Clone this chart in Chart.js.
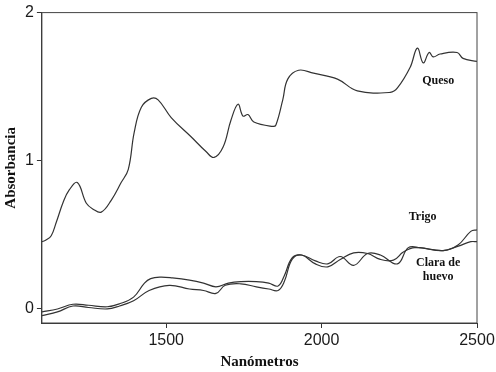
<!DOCTYPE html>
<html lang="es">
<head>
    <meta charset="UTF-8">
    <title>Absorbancia NIR</title>
    <script src="https://cdn.jsdelivr.net/npm/chart.js"></script>
    <style>
        body {
            margin: 0;
            background: #fff;
        }
    </style>
</head>
<body>
<canvas id="spectra" width="496" height="372"></canvas>

<script>
    // wavelengths (nm) and absorbance
    const quesoNm  = [1100, 1112, 1130, 1146, 1169, 1188, 1214, 1243, 1265, 1291, 1323, 1355, 1378, 1397, 1420, 1452, 1474, 1516, 1580, 1628, 1654, 1683, 1708, 1731, 1747, 1763, 1782, 1843, 1853, 1875, 1891, 1926, 1974, 2051, 2115, 2221, 2244, 2285, 2308, 2327, 2346, 2359, 2381, 2436, 2455, 2500];
    const quesoAbs = [0.45, 0.46, 0.49, 0.58, 0.72, 0.80, 0.85, 0.71, 0.67, 0.65, 0.73, 0.85, 0.94, 1.19, 1.36, 1.42, 1.41, 1.29, 1.16, 1.06, 1.02, 1.09, 1.27, 1.38, 1.30, 1.31, 1.26, 1.23, 1.24, 1.41, 1.55, 1.61, 1.59, 1.55, 1.47, 1.46, 1.49, 1.63, 1.76, 1.66, 1.73, 1.70, 1.72, 1.73, 1.69, 1.67];

    const trigoNm  = [1100, 1150, 1200, 1250, 1310, 1350, 1395, 1430, 1450, 1480, 1520, 1575, 1620, 1660, 1700, 1740, 1790, 1830, 1860, 1880, 1905, 1935, 1980, 2020, 2060, 2103, 2148, 2189, 2244, 2279, 2317, 2391, 2440, 2480, 2500];
    const trigoAbs = [-0.025, -0.005, 0.027, 0.02, 0.01, 0.03, 0.075, 0.17, 0.20, 0.21, 0.205, 0.19, 0.17, 0.145, 0.17, 0.18, 0.18, 0.17, 0.15, 0.22, 0.34, 0.36, 0.32, 0.30, 0.35, 0.29, 0.37, 0.36, 0.30, 0.41, 0.41, 0.39, 0.43, 0.52, 0.53];

    const claraNm  = [1100, 1150, 1200, 1250, 1310, 1350, 1395, 1445, 1510, 1575, 1620, 1660, 1690, 1740, 1790, 1830, 1860, 1880, 1905, 1935, 1980, 2020, 2060, 2103, 2148, 2189, 2231, 2263, 2300, 2391, 2440, 2480, 2500];
    const claraAbs = [-0.05, -0.025, 0.015, 0.005, -0.005, 0.015, 0.05, 0.12, 0.155, 0.13, 0.12, 0.10, 0.155, 0.165, 0.145, 0.13, 0.12, 0.18, 0.33, 0.36, 0.30, 0.28, 0.33, 0.375, 0.37, 0.33, 0.325, 0.38, 0.41, 0.39, 0.42, 0.45, 0.45];

    const xTicks = [1500, 2000, 2500];
    const yTicks = [0, 1, 2];

    // curve labels, placed in data coordinates
    const labelText = ['Queso', 'Trigo', 'Clara de', 'huevo'];
    const labelNm   = [2375, 2325, 2375, 2375];
    const labelAbs  = [1.54, 0.62, 0.305, 0.21];

    const toPoints = (xs, ys) => xs.map((x, i) => ({ x: x, y: ys[i] }));

    const lineStyle = {
        borderColor: '#333',
        borderWidth: 1.2,
        pointRadius: 0,
        tension: 0.4,
        fill: false
    };

    const framePlugin = {
        id: 'frame',
        afterDraw(chart) {
            const { ctx, chartArea: a, scales } = chart;
            ctx.save();
            ctx.strokeStyle = '#444';
            ctx.lineWidth = 1;
            ctx.strokeRect(a.left, a.top, a.right - a.left, a.bottom - a.top);

            ctx.fillStyle = '#111';
            ctx.font = 'bold 12px "Liberation Serif", serif';
            ctx.textAlign = 'center';
            ctx.textBaseline = 'middle';
            labelText.forEach((t, i) => {
                ctx.fillText(t, scales.x.getPixelForValue(labelNm[i]), scales.y.getPixelForValue(labelAbs[i]));
            });
            ctx.restore();
        }
    };

    new Chart(document.getElementById('spectra'), {
        type: 'line',
        data: {
            datasets: [
                { label: 'Queso', data: toPoints(quesoNm, quesoAbs), ...lineStyle },
                { label: 'Trigo', data: toPoints(trigoNm, trigoAbs), ...lineStyle },
                { label: 'Clara de huevo', data: toPoints(claraNm, claraAbs), ...lineStyle }
            ]
        },
        options: {
            responsive: false,
            animation: false,
            layout: { padding: { top: 7, right: 0, left: 2, bottom: 2 } },
            plugins: {
                legend: { display: false },
                tooltip: { enabled: false }
            },
            scales: {
                x: {
                    type: 'linear',
                    min: 1100,
                    max: 2500,
                    afterBuildTicks: s => { s.ticks = xTicks.map(v => ({ value: v })); },
                    afterFit: s => { s.paddingLeft = 0; s.paddingRight = 19; },
                    grid: { drawOnChartArea: false, drawTicks: true, tickLength: 5, color: '#333' },
                    border: { color: '#333', width: 1 },
                    ticks: {
                        color: '#1a1a1a',
                        padding: 5,
                        maxRotation: 0,
                        callback: v => String(v),
                        font: { family: '"Liberation Sans", Arial, sans-serif', size: 16, lineHeight: 1 }
                    },
                    title: {
                        display: true,
                        text: 'Nanómetros',
                        color: '#111',
                        padding: { top: 1, bottom: 0 },
                        font: { family: '"Liberation Serif", serif', size: 15, weight: 'bold', lineHeight: 1 }
                    }
                },
                y: {
                    min: -0.1,
                    max: 2,
                    afterBuildTicks: s => { s.ticks = yTicks.map(v => ({ value: v })); },
                    grid: { drawOnChartArea: false, drawTicks: true, tickLength: 5, color: '#333' },
                    border: { color: '#333', width: 1 },
                    ticks: {
                        color: '#1a1a1a',
                        padding: 3,
                        callback: v => String(v),
                        font: { family: '"Liberation Sans", Arial, sans-serif', size: 16 }
                    },
                    title: {
                        display: true,
                        text: 'Absorbancia',
                        color: '#111',
                        padding: { top: 0, bottom: 2 },
                        font: { family: '"Liberation Serif", serif', size: 15, weight: 'bold' }
                    }
                }
            }
        },
        plugins: [framePlugin]
    });
</script>
</body>
</html>
